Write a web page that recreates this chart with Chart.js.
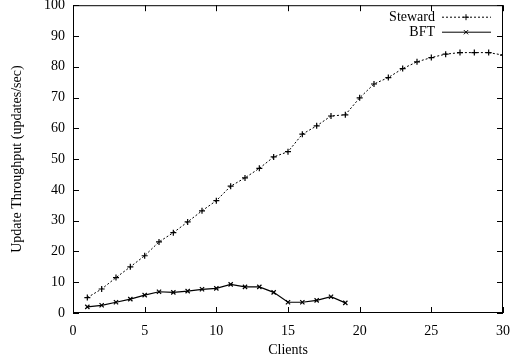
<!DOCTYPE html>
<html><head><meta charset="utf-8">
<script src="https://cdn.jsdelivr.net/npm/chart.js@4.4.0/dist/chart.umd.min.js"></script>
<style>html,body{margin:0;padding:0;background:#fff}#wrap{width:510px;height:364px}</style>
</head><body><div id="wrap"><canvas id="c" width="510" height="364"></canvas></div>
<script>
const clients = [1,2,3,4,5,6,7,8,9,10,11,12,13,14,15,16,17,18,19,20,21,22,23,24,25,26,27,28,29,30];
const stewardValues = [5,7.8,11.5,15,18.6,23.1,26.1,29.6,33.2,36.5,41.2,43.9,47,50.7,52.4,58.1,60.8,64,64.4,69.9,74.4,76.5,79.4,81.6,83,84.1,84.6,84.6,84.6,83.8];
const bftClients = [1,2,3,4,5,6,7,8,9,10,11,12,13,14,15,16,17,18,19];
const bftValues = [2.0,2.5,3.5,4.5,5.8,6.9,6.7,7.1,7.7,8.0,9.3,8.5,8.5,6.7,3.5,3.5,4.1,5.3,3.3];
const xTicks = [0,5,10,15,20,25,30];
const yTicks = [0,10,20,30,40,50,60,70,80,90,100];
const seriesNames = ['Steward','BFT'];

const FONT = 'Liberation Serif';

const framePlugin = {
  id: 'frame',
  afterDatasetsDraw(chart) {
    const ctx = chart.ctx, a = chart.chartArea;
    const xs = chart.scales.x, ys = chart.scales.y;
    ctx.save();
    ctx.strokeStyle = '#000';
    ctx.lineWidth = 1;
    ctx.strokeRect(a.left + 0.5, a.top + 0.5, a.right - a.left - 1, a.bottom - a.top - 1);
    ctx.beginPath();
    const tl = 6;
    xTicks.forEach(v => {
      const px = Math.round(xs.getPixelForValue(v)) + 0.5;
      ctx.moveTo(px, a.bottom); ctx.lineTo(px, a.bottom - tl);
      ctx.moveTo(px, a.top); ctx.lineTo(px, a.top + tl);
    });
    yTicks.forEach(v => {
      const py = Math.round(ys.getPixelForValue(v)) + 0.5;
      ctx.moveTo(a.left, py); ctx.lineTo(a.left + tl, py);
      ctx.moveTo(a.right, py); ctx.lineTo(a.right - tl, py);
    });
    ctx.stroke();
    // legend
    ctx.font = '14px "' + FONT + '"';
    ctx.fillStyle = '#000';
    ctx.textAlign = 'right';
    ctx.textBaseline = 'middle';
    const rows = [{name: seriesNames[0], y: a.top + 12, dash: [2,2], style: 'cross'},
                  {name: seriesNames[1], y: a.top + 27, dash: [], style: 'crossRot'}];
    rows.forEach(r => {
      ctx.fillText(r.name, a.left + 362, r.y);
      ctx.beginPath();
      ctx.setLineDash(r.dash);
      ctx.moveTo(a.left + 369, r.y); ctx.lineTo(a.left + 418, r.y);
      ctx.stroke();
      ctx.setLineDash([]);
      Chart.helpers.drawPoint(ctx, {pointStyle: r.style, radius: 3, borderWidth: 1}, a.left + 393, r.y);
    });
    ctx.restore();
  }
};

const hiddenGrid = (len) => ({display: true, drawOnChartArea: false, drawTicks: true, tickLength: len, color: 'rgba(0,0,0,0)'});

new Chart(document.getElementById('c'), {
  type: 'scatter',
  data: {
    datasets: [
      {
        label: seriesNames[0],
        data: clients.map((c, i) => ({x: c, y: stewardValues[i]})),
        showLine: true,
        borderColor: '#000',
        backgroundColor: '#000',
        borderWidth: 1,
        borderDash: [2, 2],
        pointStyle: 'cross',
        pointRadius: 3,
        pointBorderWidth: 1.2,
        pointBorderColor: '#000'
      },
      {
        label: seriesNames[1],
        data: bftClients.map((c, i) => ({x: c, y: bftValues[i]})),
        showLine: true,
        borderColor: '#000',
        backgroundColor: '#000',
        borderWidth: 1.2,
        pointStyle: 'crossRot',
        pointRadius: 3,
        pointBorderWidth: 1.2,
        pointBorderColor: '#000'
      }
    ]
  },
  options: {
    responsive: false,
    animation: false,
    devicePixelRatio: 1,
    layout: {padding: {left: 0, right: 0, top: 0, bottom: 0}},
    plugins: {legend: {display: false}, tooltip: {enabled: false}},
    scales: {
      x: {
        type: 'linear', min: 0, max: 30,
        afterFit(s) { s.height = 51; },
        afterBuildTicks(s) { s.ticks = xTicks.map(v => ({value: v})); },
        grid: hiddenGrid(10),
        border: {display: false},
        ticks: {color: '#000', padding: 0, maxRotation: 0, font: {family: FONT, size: 14}},
        title: {display: true, text: 'Clients', color: '#000', padding: {top: 0, bottom: 5}, font: {family: FONT, size: 14}}
      },
      y: {
        type: 'linear', min: 0, max: 100,
        afterFit(s) { s.width = 73; },
        afterBuildTicks(s) { s.ticks = yTicks.map(v => ({value: v})); },
        grid: hiddenGrid(8),
        border: {display: false},
        ticks: {color: '#000', padding: 0, font: {family: FONT, size: 14, lineHeight: 0.65}},
        title: {display: true, text: 'Update Throughput (updates/sec)', color: '#000', padding: {top: 9, bottom: 0}, font: {family: FONT, size: 14}}
      }
    }
  },
  plugins: [framePlugin]
});
</script></body></html>
